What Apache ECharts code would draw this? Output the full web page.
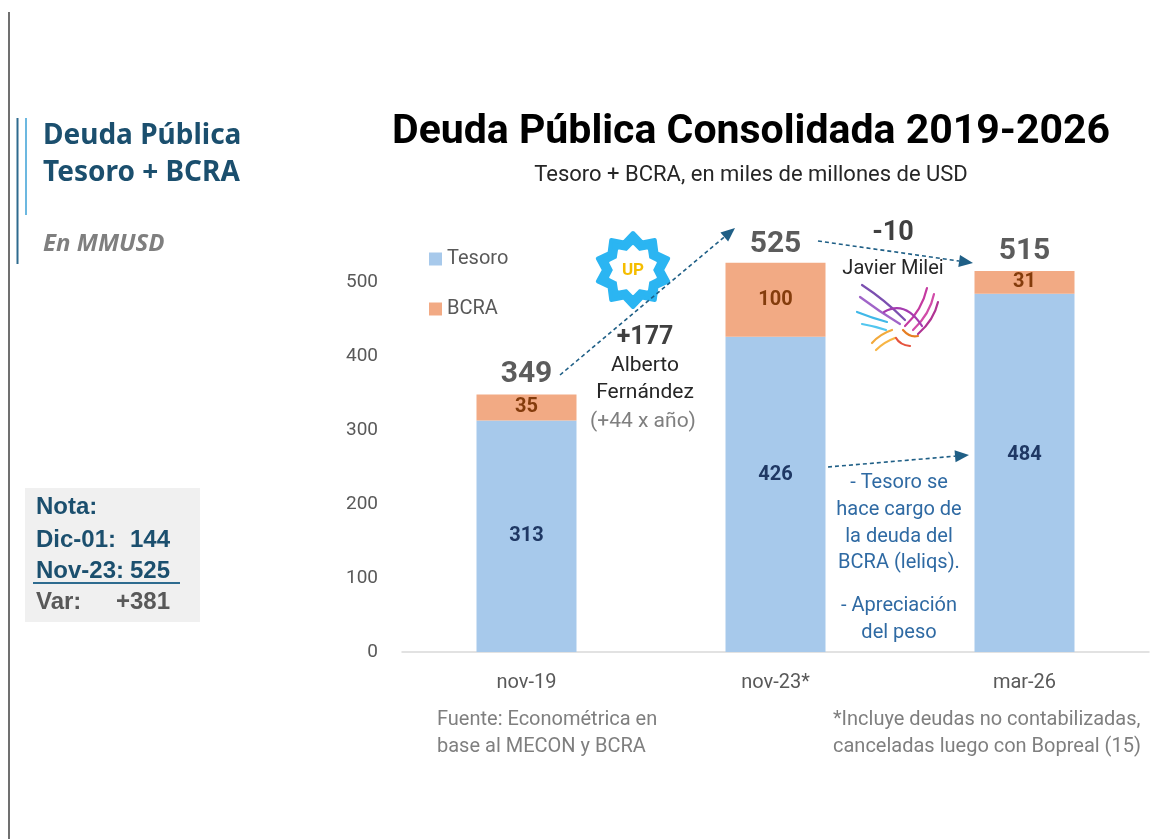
<!DOCTYPE html>
<html>
<head>
<meta charset="utf-8">
<script src="https://cdn.jsdelivr.net/npm/echarts@6/dist/echarts.min.js"></script>
<style>
  html, body { margin: 0; padding: 0; background: #fff; }
  #chart { width: 1156px; height: 839px; }
</style>
</head>
<body>
<div id="chart"></div>
<script>
// datos (miles de millones de USD)
const categories = ['nov-19', 'nov-23*', 'mar-26'];
const tesoro = [313, 426, 484];
const bcra = [35, 100, 31];
const totals = [349, 525, 515];
const yTicks = [0, 100, 200, 300, 400, 500];

// ajuste vertical de las etiquetas del Tesoro (px)
const tesoroLabelShift = [0, -19, -18];

const ARROW = '#1f5f86';
const chartFont = 'Roboto, "Noto Sans", sans-serif';
const notaFont = 'bold 24px "Liberation Sans", Arial, sans-serif';

function arrow(x1, y1, x2, y2) {
  const a = Math.atan2(y2 - y1, x2 - x1);
  const len = 14, w = 6;
  const bx = x2 - len * Math.cos(a), by = y2 - len * Math.sin(a);
  const px = -Math.sin(a) * w, py = Math.cos(a) * w;
  return [
    {
      type: 'line',
      shape: { x1: x1, y1: y1, x2: bx, y2: by },
      style: { stroke: ARROW, lineWidth: 1.6, lineDash: [4, 3] }
    },
    {
      type: 'polygon',
      shape: { points: [[x2, y2], [bx + px, by + py], [bx - px, by - py]] },
      style: { fill: ARROW }
    }
  ];
}

function txt(x, y, text, font, fill, align) {
  return {
    type: 'text', x: x, y: y,
    style: { text: text, font: font, fill: fill, align: align || 'center', verticalAlign: 'middle' }
  };
}

function star(cx, cy, n, rOut, rIn) {
  const pts = [];
  for (let i = 0; i < n * 2; i++) {
    const r = i % 2 === 0 ? rOut : rIn;
    const a = Math.PI * i / n - Math.PI / 2;
    pts.push([cx + r * Math.cos(a), cy + r * Math.sin(a)]);
  }
  return pts;
}

function stroke(x1, y1, cx, cy, x2, y2, color) {
  return {
    type: 'bezierCurve',
    shape: { x1: x1, y1: y1, cpx1: cx, cpy1: cy, x2: x2, y2: y2 },
    style: { stroke: color, lineWidth: 2.2, fill: null, lineCap: 'round' }
  };
}

const blueText = '#2f6aa3';
const navy = '#1b4f6e';

const graphics = [
  // panel izquierdo
  { type: 'line', shape: { x1: 9, y1: 12, x2: 9, y2: 839 }, style: { stroke: '#404040', lineWidth: 1.5 } },
  { type: 'line', shape: { x1: 17.5, y1: 118, x2: 17.5, y2: 264 }, style: { stroke: '#2e6b8f', lineWidth: 2 } },
  { type: 'line', shape: { x1: 26, y1: 118, x2: 26, y2: 215 }, style: { stroke: '#6cb8e0', lineWidth: 2 } },
  txt(43, 136, 'Deuda Pública', 'bold 28px "Noto Sans"', navy, 'left'),
  txt(43, 173, 'Tesoro + BCRA', 'bold 28px "Noto Sans"', navy, 'left'),
  txt(43, 244, 'En MMUSD', 'italic bold 24px "Noto Sans"', '#7f7f7f', 'left'),
  { type: 'rect', shape: { x: 25, y: 488, width: 175, height: 134 }, style: { fill: '#f0f0f0' } },
  txt(36, 507, 'Nota:', notaFont, navy, 'left'),
  txt(36, 540, 'Dic-01:', notaFont, navy, 'left'),
  txt(170, 540, '144', notaFont, navy, 'right'),
  txt(36, 571, 'Nov-23:', notaFont, navy, 'left'),
  txt(170, 571, '525', notaFont, navy, 'right'),
  { type: 'line', shape: { x1: 33, y1: 583, x2: 180, y2: 583 }, style: { stroke: '#2e6b8f', lineWidth: 2 } },
  txt(36, 602, 'Var:', notaFont, '#595959', 'left'),
  txt(170, 602, '+381', notaFont, '#595959', 'right'),

  // títulos
  txt(751, 133, 'Deuda Pública Consolidada 2019-2026', 'bold 41px ' + chartFont, '#000'),
  txt(751, 175, 'Tesoro + BCRA, en miles de millones de USD', '22px ' + chartFont, '#262626'),

  // logo UP
  { type: 'polygon', shape: { points: star(633, 270, 10, 37, 29) }, style: { fill: '#2bb5f2', stroke: '#2bb5f2', lineWidth: 4, lineJoin: 'round' } },
  { type: 'polygon', shape: { points: star(633, 270, 10, 24, 19) }, style: { fill: '#fff', stroke: '#fff', lineWidth: 2, lineJoin: 'round' } },
  txt(633, 271, 'UP', 'bold 17px ' + chartFont, '#f5bd00'),

  // anotaciones
  txt(645, 338, '+177', 'bold 25px ' + chartFont, '#404040'),
  txt(645, 366, 'Alberto', '21px ' + chartFont, '#262626'),
  txt(645, 393, 'Fernández', '21px ' + chartFont, '#262626'),
  txt(643, 422, '(+44 x año)', '21px ' + chartFont, '#7f7f7f'),
  txt(893, 233, '-10', 'bold 27px ' + chartFont, '#404040'),
  txt(893, 269, 'Javier Milei', '20px ' + chartFont, '#262626'),

  // pájaro
  stroke(862, 285, 885, 300, 905, 320, '#7b4fb0'),
  stroke(860, 297, 880, 312, 900, 324, '#a064c8'),
  stroke(857, 312, 872, 318, 887, 322, '#40b8e8'),
  stroke(862, 324, 874, 326, 886, 330, '#52c6ef'),
  stroke(927, 288, 922, 310, 905, 326, '#c43aa0'),
  stroke(934, 294, 930, 314, 913, 330, '#d14ca8'),
  stroke(938, 302, 934, 320, 918, 334, '#b03493'),
  stroke(884, 312, 905, 300, 922, 326, '#a53bb0'),
  stroke(872, 343, 880, 334, 892, 330, '#f2a93b'),
  stroke(876, 350, 884, 342, 895, 338, '#f7b545'),
  stroke(896, 338, 900, 345, 910, 346, '#e5533d'),
  stroke(903, 330, 910, 338, 918, 336, '#e67e22'),

  // texto azul
  txt(899, 483, '- Tesoro se', '20px ' + chartFont, blueText),
  txt(899, 510, 'hace cargo de', '20px ' + chartFont, blueText),
  txt(899, 537, 'la deuda del', '20px ' + chartFont, blueText),
  txt(899, 563, 'BCRA (leliqs).', '20px ' + chartFont, blueText),
  txt(899, 606, '- Apreciación', '20px ' + chartFont, blueText),
  txt(899, 633, 'del peso', '20px ' + chartFont, blueText),

  // notas al pie
  txt(437, 720, 'Fuente: Econométrica en', '20px ' + chartFont, '#7f7f7f', 'left'),
  txt(437, 747, 'base al MECON y BCRA', '20px ' + chartFont, '#7f7f7f', 'left'),
  txt(833, 720, '*Incluye deudas no contabilizadas,', '20px ' + chartFont, '#7f7f7f', 'left'),
  txt(833, 747, 'canceladas luego con Bopreal (15)', '20px ' + chartFont, '#7f7f7f', 'left')
]
  .concat(arrow(560, 375, 735, 228))
  .concat(arrow(818, 241, 973, 263))
  .concat(arrow(828, 467, 969, 455));

const chart = echarts.init(document.getElementById('chart'), null, { renderer: 'canvas' });

const option = {
  animation: false,
  backgroundColor: '#fff',
  textStyle: { fontFamily: chartFont },
  grid: { left: 402, right: 7, top: 208, bottom: 187 },
  legend: {
    data: ['Tesoro', 'BCRA'],
    orient: 'vertical',
    left: 424,
    top: 244,
    icon: 'rect',
    itemWidth: 13,
    itemHeight: 13,
    itemGap: 30,
    textStyle: { fontSize: 20, color: '#595959' }
  },
  xAxis: {
    type: 'category',
    data: categories,
    axisLine: { lineStyle: { color: '#d9d9d9', width: 1.5 } },
    axisTick: { show: false },
    axisLabel: { fontSize: 20, color: '#595959', margin: 21 }
  },
  yAxis: {
    type: 'value',
    min: 0,
    max: 600,
    interval: 100,
    splitLine: { show: false },
    axisLine: { show: false },
    axisTick: { show: false },
    axisLabel: {
      fontSize: 19,
      color: '#595959',
      margin: 24,
      formatter: function (v) { return yTicks.indexOf(v) >= 0 ? String(v) : ''; }
    }
  },
  graphic: graphics,
  series: [
    {
      name: 'Tesoro',
      type: 'bar',
      stack: 'total',
      barWidth: 100,
      itemStyle: { color: '#a7c9eb' },
      label: { show: true, position: 'inside', color: '#1f3864', fontWeight: 'bold', fontSize: 20 },
      data: tesoro.map(function (v, i) {
        return { value: v, label: { offset: [0, tesoroLabelShift[i]] } };
      })
    },
    {
      name: 'BCRA',
      type: 'bar',
      stack: 'total',
      barWidth: 100,
      itemStyle: { color: '#f2aa84' },
      label: { show: true, position: 'inside', color: '#843c0c', fontWeight: 'bold', fontSize: 20 },
      data: bcra
    },
    {
      name: 'Total',
      type: 'scatter',
      symbolSize: 0,
      silent: true,
      label: { show: true, position: 'top', distance: 4, color: '#333333', fontWeight: 'bold', fontSize: 30 },
      data: totals
    }
  ]
};

chart.setOption(option);
window.addEventListener('resize', function () { chart.resize(); });
</script>
</body>
</html>
